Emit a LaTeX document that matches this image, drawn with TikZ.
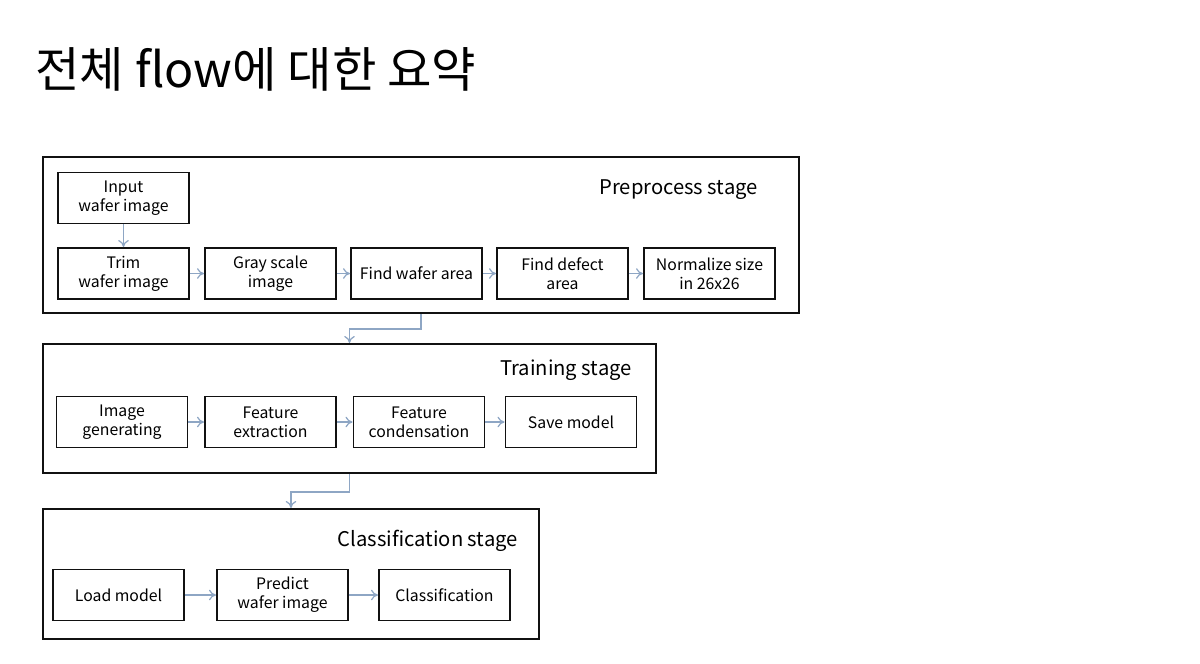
\documentclass[tikz,border=0pt]{standalone}
\usepackage{fontspec}
\setmainfont{Noto Sans CJK KR}
\usetikzlibrary{arrows.meta, positioning}
\definecolor{Flow_Blue}{HTML}{8EA6C4}
\definecolor{Box_Black}{HTML}{111111}

\begin{document}
\begin{tikzpicture}[
    x=0.02cm, y=-0.02cm,
    stage/.style={draw=Box_Black, line width=1.2pt, anchor=center},
    task/.style={draw=Box_Black, line width=1.1pt, minimum width=2.62cm, minimum height=1.02cm,
                 align=center, font=\fontsize{9}{10.8}\selectfont, inner sep=1pt, anchor=center},
    caption/.style={anchor=east, inner sep=0pt, yshift=-1.5pt, font=\fontsize{11.5}{13}\selectfont},
    flow/.style={-{To[length=4pt, width=6pt]}, line width=0.7pt, Flow_Blue}
]
\useasboundingbox (0,0) rectangle (1200,663);

% title
\node[anchor=west, inner sep=0pt, font=\fontsize{27.5}{30}\selectfont] (title) at (35, 69) {전체 flow에 대한 요약};

% stage frames
\node[stage, minimum width=15.12cm, minimum height=3.12cm] (pre) at (421, 235) {};
\node[stage, minimum width=12.26cm, minimum height=2.58cm] (train) at (349.5, 408.5) {};
\node[stage, minimum width=9.92cm, minimum height=2.6cm] (cls) at (291, 574) {};

\node[caption] (preL) at (758, 187) {Preprocess stage};
\node[caption] (trainL) at (632, 368) {Training stage};
\node[caption] (clsL) at (518, 538) {Classification stage};

% preprocess stage
\node[task] (input) at (123.5, 198) {Input\\wafer image};
\node[task] (trim) at (123.5, 273.5) {Trim\\wafer image};
\node[task] (gray) at (270.5, 273.5) {Gray scale\\image};
\node[task] (area) at (416.5, 273.5) {Find wafer area};
\node[task] (defect) at (562.5, 273.5) {Find defect\\area};
\node[task] (norm) at (709.5, 273.5) {Normalize size\\in 26x26};

% training stage
\node[task] (gen) at (122, 422) {Image\\generating};
\node[task] (feat) at (270.5, 422) {Feature\\extraction};
\node[task] (cond) at (419, 422) {Feature\\condensation};
\node[task] (save) at (571, 422) {Save model};

% classification stage
\node[task] (load) at (118.5, 595) {Load model};
\node[task] (pred) at (282.5, 595) {Predict\\wafer image};
\node[task] (result) at (444.5, 595) {Classification};

% arrows
\draw[flow] (input) -- (trim);
\draw[flow] (trim) -- (gray);
\draw[flow] (gray) -- (area);
\draw[flow] (area) -- (defect);
\draw[flow] (defect) -- (norm);
\draw[flow] (gen) -- (feat);
\draw[flow] (feat) -- (cond);
\draw[flow] (cond) -- (save);
\draw[flow] (load) -- (pred);
\draw[flow] (pred) -- (result);

% between stages
\draw[flow] (pre.south) -- ++(0,15) -| (train.north);
\draw[flow] (train.south) -- ++(0,18) -| (cls.north);
\end{tikzpicture}
\end{document}
